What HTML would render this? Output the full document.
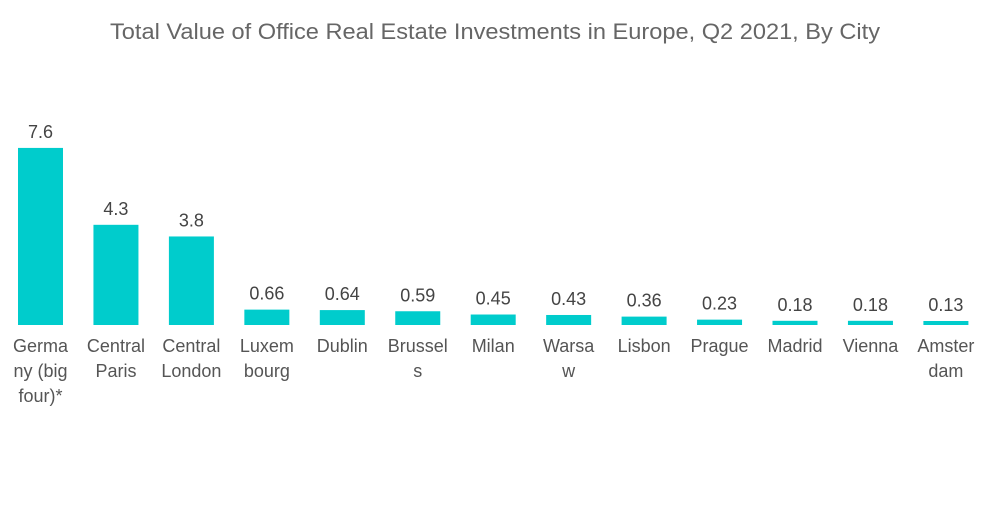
<!DOCTYPE html>
<html><head><meta charset="utf-8"><style>
body{margin:0;background:#fff;width:1000px;height:504px;overflow:hidden;font-family:"Liberation Sans",sans-serif}
</style></head><body>
<svg width="1000" height="504" xmlns="http://www.w3.org/2000/svg">
<text x="495" y="39" text-anchor="middle" font-size="22" fill="#666" textLength="770" lengthAdjust="spacingAndGlyphs">Total Value of Office Real Estate Investments in Europe, Q2 2021, By City</text>
<g id="bars"></g>
</svg>
<script>
const categories=[["Germa","ny (big","four)*"],["Central","Paris"],["Central","London"],["Luxem","bourg"],["Dublin"],["Brussel","s"],["Milan"],["Warsa","w"],["Lisbon"],["Prague"],["Madrid"],["Vienna"],["Amster","dam"]];
const values=[7.6,4.3,3.8,0.66,0.64,0.59,0.45,0.43,0.36,0.23,0.18,0.18,0.13];
const valueLabels=["7.6","4.3","3.8","0.66","0.64","0.59","0.45","0.43","0.36","0.23","0.18","0.18","0.13"];
const baseY=325, pxPerUnit=23.3, x0=40.5, step=75.45, bw=45;
const xScale=i=>x0+i*step;
const yScale=v=>baseY-Math.max(v*pxPerUnit,4);
const g=document.getElementById('bars');
const ns="http://www.w3.org/2000/svg";
values.forEach((v,i)=>{
  const cx=xScale(i), top=yScale(v);
  const r=document.createElementNS(ns,'rect');
  r.setAttribute('x',cx-bw/2);r.setAttribute('y',top);r.setAttribute('width',bw);r.setAttribute('height',baseY-top);r.setAttribute('fill','#00cccc');
  
  
  g.appendChild(r);
  const t=document.createElementNS(ns,'text');
  t.setAttribute('x',cx);t.setAttribute('y',top-10);t.setAttribute('text-anchor','middle');t.setAttribute('font-size','18');t.setAttribute('fill','#444');
  t.textContent=valueLabels[i];
  
  
  g.appendChild(t);
  categories[i].forEach((line,j)=>{
    const c=document.createElementNS(ns,'text');
    c.setAttribute('x',cx);c.setAttribute('y',352+j*25);c.setAttribute('text-anchor','middle');c.setAttribute('font-size','18');c.setAttribute('fill','#555');
    c.textContent=line;
    
    
    g.appendChild(c);
  });
});
</script>
</body></html>
